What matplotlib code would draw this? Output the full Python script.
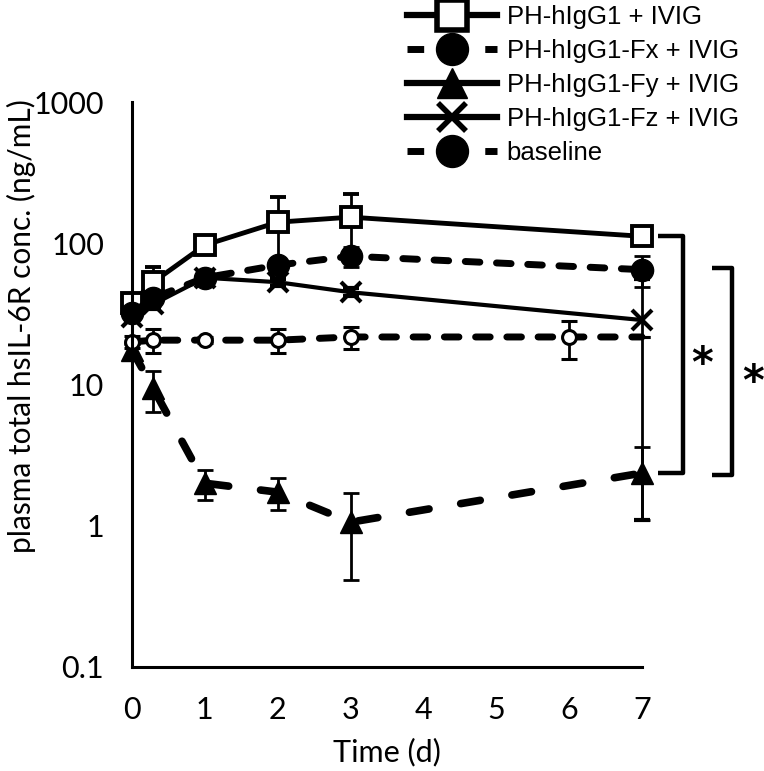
import numpy as np
import matplotlib
matplotlib.use("Agg")
import matplotlib.pyplot as plt
from matplotlib.lines import Line2D

# ------------------------
# Data
# ------------------------
time_d = [0, 0.29, 1, 2, 3, 7]
time_base = [0, 0.29, 1, 2, 3, 6, 7]

hIgG1 = [38, 53, 97, 141, 153, 112]
hIgG1_err = [3, 15, 5, 71, 70, 8]

hIgG1_Fx = [32, 41, 57, 70, 81, 65]
hIgG1_Fx_err = [3, 5, 5, 8, 13, 16]

hIgG1_Fy = [17.5, 9.4, 2.0, 1.73, 1.06, 2.36]
hIgG1_Fy_err = [2, 3.0, 0.48, 0.44, 0.65, 1.26]

hIgG1_Fz = [30, 37, 57, 53, 45, 28.6]
hIgG1_Fz_err = [2, 3, 3, 3, 3, 27.5]

baseline = [20, 20.6, 20.6, 20.6, 21.7, 21.7, 21.7]
baseline_err = [2, 4, 1, 4, 4, 6.6, 0]

labels = ["PH-hIgG1 + IVIG", "PH-hIgG1-Fx + IVIG", "PH-hIgG1-Fy + IVIG",
          "PH-hIgG1-Fz + IVIG", "baseline"]

yticks = [0.1, 1, 10, 100, 1000]
ytick_labels = ["0.1", "1", "10", "100", "1000"]
xticks = [0, 1, 2, 3, 4, 5, 6, 7]

# ------------------------
# Figure
# ------------------------
fig = plt.figure(figsize=(7.64, 7.71), dpi=100)
ax = fig.add_axes([132 / 764, 1 - 667 / 771, 510 / 764, 565 / 771])

eb = dict(ecolor="black", elinewidth=2.0, capsize=5.5, capthick=2.0)
dash_fx = (0, (2.1, 2.4))
dash_fy = (0, (2.6, 4.2))

series = []
series.append(ax.errorbar(time_d, hIgG1, yerr=hIgG1_err, color="black", lw=3.5,
                          marker="s", ms=14, mfc="white", mec="black", mew=2.8, **eb))
series.append(ax.errorbar(time_d, hIgG1_Fx, yerr=hIgG1_Fx_err, color="black", lw=5,
                          ls=dash_fx, dash_capstyle="round", marker="o", ms=16,
                          mfc="black", mec="black", **eb))
series.append(ax.errorbar(time_d, hIgG1_Fy, yerr=hIgG1_Fy_err, color="black", lw=5.5,
                          ls=dash_fy, dash_capstyle="round", marker="^", ms=16,
                          mfc="black", mec="black", **eb))
series.append(ax.errorbar(time_d, hIgG1_Fz, yerr=hIgG1_Fz_err, color="black", lw=3,
                          marker="x", ms=15, mew=3, mec="black", **eb))
series.append(ax.errorbar(time_base, baseline, yerr=baseline_err, color="black", lw=5,
                          ls=dash_fx, dash_capstyle="round", marker="o", ms=10,
                          mfc="white", mec="black", mew=2.2,
                          markevery=list(range(6)), **eb))
for cont in series:
    for art in cont.get_children():
        art.set_clip_on(False)

ax.set_yscale("log")
ax.set_ylim(0.1, 1000)
ax.set_xlim(0, 7)
ax.set_yticks(yticks)
ax.set_yticklabels(ytick_labels)
ax.minorticks_off()
ax.set_xticks(xticks)
ax.tick_params(length=0, labelsize=22)
ax.tick_params(axis="x", pad=21)
ax.tick_params(axis="y", pad=20)
for lab in ax.get_xticklabels() + ax.get_yticklabels():
    lab.set_family("Lato")

for s in ["top", "right"]:
    ax.spines[s].set_visible(False)
for s in ["left", "bottom"]:
    ax.spines[s].set_linewidth(2.2)

ax.set_xlabel("Time (d)", fontsize=22, family="Lato", labelpad=10)
ax.set_ylabel("plasma total hsIL-6R conc. (ng/mL)", fontsize=21.5, family="Lato")
ax.yaxis.set_label_coords(-0.188, 0.603)

# ------------------------
# Significance brackets
# ------------------------
def bracket(x0, x1, y_top, y_bot):
    ax.plot([x0, x1, x1, x0], [y_top, y_top, y_bot, y_bot], color="black",
            lw=3.2, solid_joinstyle="round", solid_capstyle="butt", clip_on=False)

bracket(7.22, 7.56, hIgG1[-1], hIgG1_Fy[-1])
bracket(7.96, 8.24, hIgG1_Fx[-1] * 1.03, hIgG1_Fy[-1] * 0.97)
ax.text(7.83, 13.8, "*", fontsize=30, fontweight="bold", ha="center",
        va="center", clip_on=False)
ax.text(8.52, 10.3, "*", fontsize=30, fontweight="bold", ha="center",
        va="center", clip_on=False)

# ------------------------
# Legend
# ------------------------
handles = [
    Line2D([], [], color="black", lw=4.5, marker="s", ms=21, mfc="white",
           mec="black", mew=4),
    Line2D([], [], color="black", lw=5, ls=(0, (2.4, 3.2)), dash_capstyle="butt",
           marker="o", ms=23, mfc="black"),
    Line2D([], [], color="black", lw=4.5, marker="^", ms=22, mfc="black"),
    Line2D([], [], color="black", lw=4.5, marker="x", ms=20, mew=4),
    Line2D([], [], color="black", lw=5, ls=(0, (2.4, 3.2)), dash_capstyle="butt",
           marker="o", ms=23, mfc="black"),
]
fig.legend(handles, labels, loc="upper left", bbox_to_anchor=(407 / 764, 0.994),
           frameon=False, prop={"family": "Liberation Sans", "size": 18.5},
           handlelength=3.5, handletextpad=0.38, labelspacing=0.39,
           borderpad=0, borderaxespad=0)

fig.savefig("out.png", dpi=100)
